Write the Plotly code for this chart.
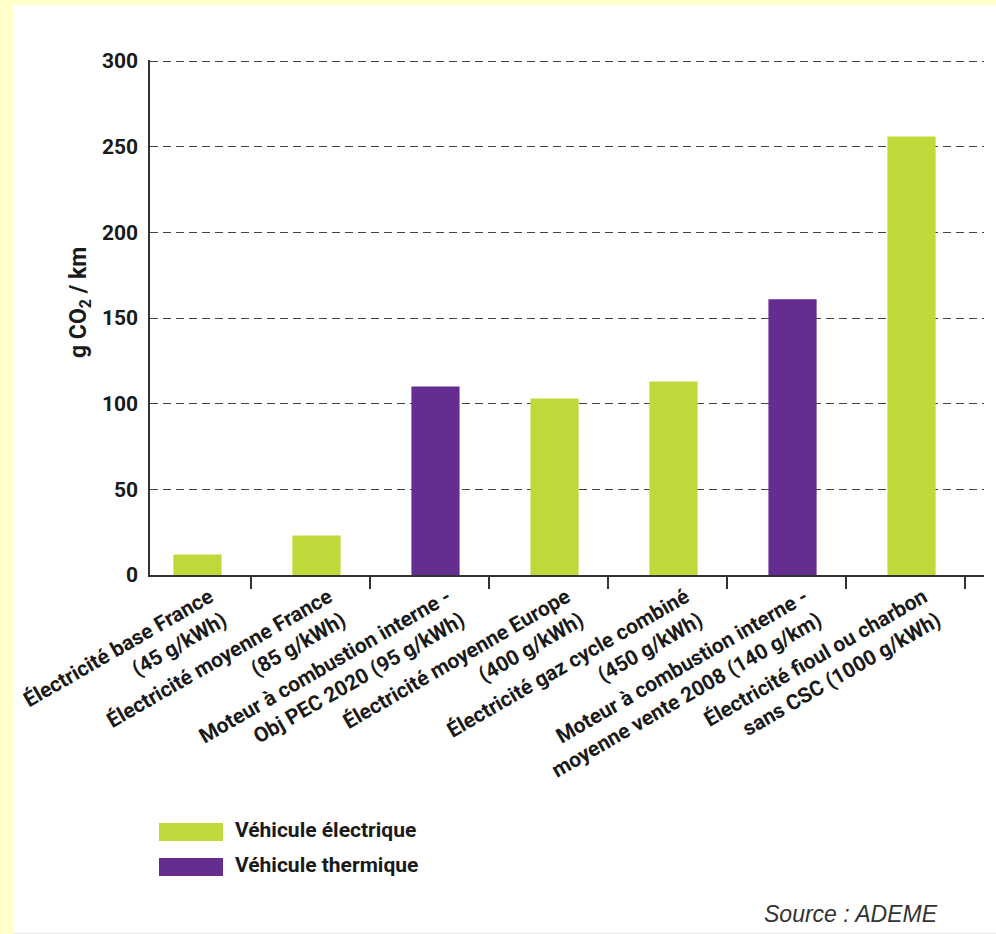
import plotly.graph_objects as go

# Emissions per km by energy source
categories = [
    "Électricité base France<br>(45 g/kWh)",
    "Électricité moyenne France<br>(85 g/kWh)",
    "Moteur à combustion interne -<br>Obj PEC 2020 (95 g/kWh)",
    "Électricité moyenne Europe<br>(400 g/kWh)",
    "Électricité gaz cycle combiné<br>(450 g/kWh)",
    "Moteur à combustion interne -<br>moyenne vente 2008 (140 g/km)",
    "Électricité fioul ou charbon<br>sans CSC (1000 g/kWh)",
]
values = [12, 23, 110, 103, 113, 161, 256]
vehicle_type = ["elec", "elec", "therm", "elec", "elec", "therm", "elec"]

series_names = {"elec": "Véhicule électrique", "therm": "Véhicule thermique"}
series_colors = {"elec": "#C1D83B", "therm": "#652D8F"}

y_ticks = [0, 50, 100, 150, 200, 250, 300]

FONT = "Roboto, Liberation Sans, Arial, sans-serif"
TEXT = "#1a1a1a"

W, H = 996, 934
ML, MR, MT, MB = 150, 12, 60, 359
PW, PH = W - ML - MR, H - MT - MB

def px(x):
    return (x - ML) / PW

def py(y):
    return (H - MB - y) / PH

idx = list(range(len(categories)))
fig = go.Figure()
for key in ["elec", "therm"]:
    xs = [i for i in idx if vehicle_type[i] == key]
    fig.add_trace(go.Bar(
        x=xs, y=[values[i] for i in xs], width=0.405,
        name=series_names[key], marker_color=series_colors[key],
        marker_line_width=0, showlegend=False,
    ))

# category separators on the x axis sit between the bars
sep = [i + 0.452 for i in idx]

fig.update_layout(
    width=W, height=H,
    margin=dict(l=ML, r=MR, t=MT, b=MB, autoexpand=False),
    paper_bgcolor="white", plot_bgcolor="white",
    barmode="overlay",
    font=dict(family=FONT, color=TEXT),
    xaxis=dict(
        range=[-0.399, 6.609], tickmode="array", tickvals=idx, ticktext=categories,
        tickangle=-30, ticks="", showgrid=False, zeroline=False,
        showline=True, linecolor="#333", linewidth=1.5,
        ticklabeloverflow="allow", ticklabelshift=12,
        tickfont=dict(family=FONT, size=21, color=TEXT, weight="bold"),
        minor=dict(tickmode="array", tickvals=sep, ticks="outside", ticklen=12,
                   tickcolor="#333", tickwidth=1.5, showgrid=False),
    ),
    yaxis=dict(
        range=[0, 300.6], tickmode="array", tickvals=y_ticks, ticks="",
        showgrid=True, gridcolor="#444", gridwidth=1.3, griddash="8px,5px",
        zeroline=False, showline=True, linecolor="#333", linewidth=1.5,
        ticklabelstandoff=6,
        tickfont=dict(family=FONT, size=21, color=TEXT, weight="bold"),
    ),
)

shapes = [
    # pale yellow frame on the left and top
    dict(type="rect", xref="paper", yref="paper", x0=px(0), x1=px(13), y0=py(H), y1=py(0),
         fillcolor="#FFFFCC", line_width=0, layer="below"),
    dict(type="rect", xref="paper", yref="paper", x0=px(0), x1=px(W), y0=py(5), y1=py(0),
         fillcolor="#FFFFCC", line_width=0, layer="below"),
    dict(type="line", xref="paper", yref="paper", x0=px(13), x1=px(W), y0=py(933.5), y1=py(933.5),
         line=dict(color="#e8e8e8", width=1)),
]

annotations = [
    dict(xref="paper", yref="paper", x=px(80), y=py(303), text="g CO<sub>2</sub> / km",
         textangle=-90, showarrow=False, xanchor="center", yanchor="middle",
         font=dict(family=FONT, size=23, color=TEXT, weight="bold")),
    dict(xref="paper", yref="paper", x=px(940), y=py(914), text="Source : ADEME",
         showarrow=False, xanchor="right", yanchor="middle",
         font=dict(family="Liberation Sans, Arial, sans-serif", size=23, color="#333", style="italic")),
]

# legend swatches and labels
legend_rows = [("elec", 832), ("therm", 867)]
for key, yc in legend_rows:
    shapes.append(dict(type="rect", xref="paper", yref="paper",
                       x0=px(159), x1=px(223), y0=py(yc + 9), y1=py(yc - 9),
                       fillcolor=series_colors[key], line_width=0))
    annotations.append(dict(xref="paper", yref="paper", x=px(233), y=py(yc - 2),
                            text=series_names[key], showarrow=False,
                            xanchor="left", yanchor="middle",
                            font=dict(family=FONT, size=21, color=TEXT, weight="bold")))

fig.update_layout(shapes=shapes, annotations=annotations)
fig.write_html("out.html")
